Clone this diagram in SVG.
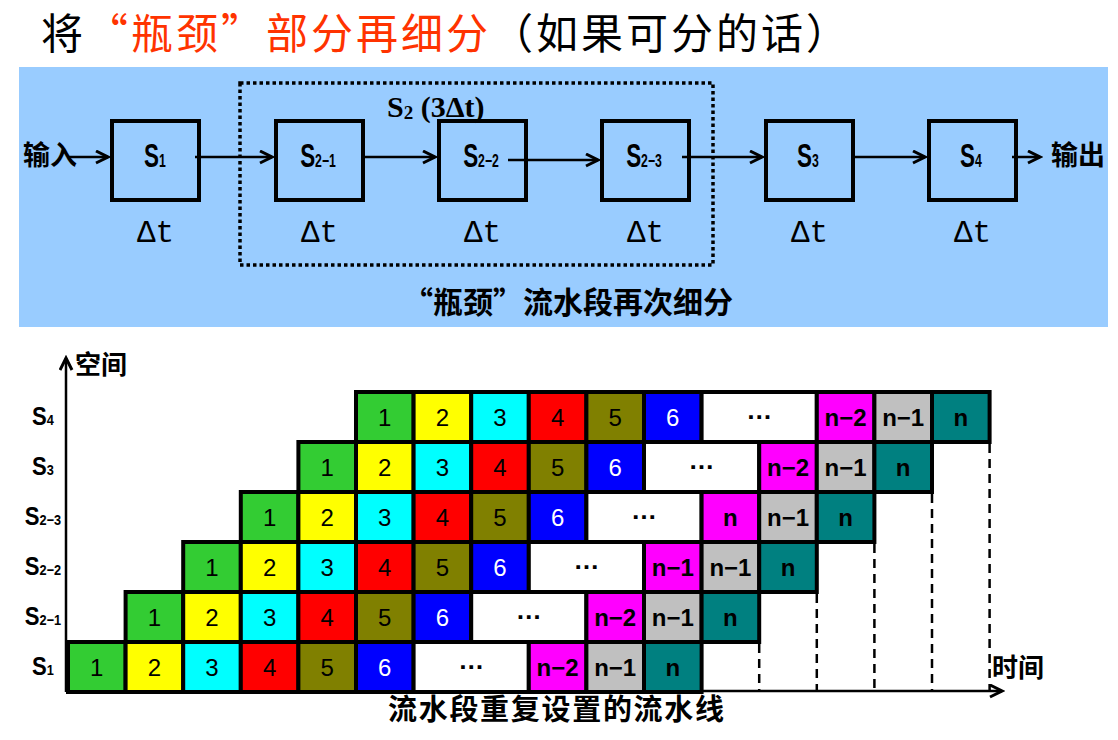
<svg xmlns="http://www.w3.org/2000/svg" width="1118" height="740" viewBox="0 0 1118 740">
<defs>
<marker id="arr" markerUnits="userSpaceOnUse" markerWidth="16" markerHeight="16" refX="13" refY="7" orient="auto">
<path d="M1,1 L13,7 L1,13" fill="none" stroke="#000" stroke-width="3" stroke-linejoin="miter"/>
</marker>
<style>
.box{fill:none;stroke:#000;stroke-width:4}
.ln{stroke:#000;stroke-width:2.5;fill:none}
.c{stroke:#000;stroke-width:4}
.g{fill:#33CC33}.y{fill:#FFFF00}.cy{fill:#00FFFF}.r{fill:#FF0000}.o{fill:#808000}.b{fill:#0000FF}.w{fill:#FFFFFF}.m{fill:#FF00FF}.gr{fill:#C0C0C0}.t{fill:#008080}
.n{font-family:"Liberation Sans",Arial,sans-serif;font-size:24px;text-anchor:middle;fill:#000}
.nw{fill:#fff}
.nb{font-weight:bold}
.el{font-family:"Liberation Sans",Arial,sans-serif;font-size:26px;font-weight:bold;text-anchor:middle}
.cjk{font-family:"Noto Sans CJK SC",sans-serif}
.rl{font-family:"Liberation Sans",Arial,sans-serif;font-weight:bold;font-size:26px;text-anchor:middle}
.sl{font-family:"Liberation Sans",Arial,sans-serif;font-weight:bold;font-size:33px;text-anchor:middle}
.dt{font-family:"Liberation Mono","Courier New",monospace;font-size:31px;text-anchor:middle}
.dash{stroke:#000;stroke-width:2.5;stroke-dasharray:9 6}
</style>
</defs>
<rect width="1118" height="740" fill="#fff"/>

<g id="title" class="cjk" font-size="42">
<text x="41" y="49">将</text>
<text x="86" y="49" fill="#FF3300" letter-spacing="3">“瓶颈”部分再细分</text>
<text x="491" y="49" letter-spacing="3">（如果可分的话）</text>
</g>

<rect id="panel" x="19" y="67" width="1089" height="260" fill="#99CCFF"/>

<g id="group-S2">
<rect x="240" y="83" width="473" height="182" fill="none" stroke="#000" stroke-width="3.5" stroke-dasharray="3.5 3"/>
<text x="387" y="117" font-family="'Liberation Serif','Times New Roman',serif" font-weight="bold" font-size="30">S<tspan font-size="19" dy="2">2</tspan><tspan dy="-2"> (3Δt)</tspan></text>
</g>

<g id="in-label"><text class="cjk" x="23" y="165" font-size="27" font-weight="bold">输入</text></g>
<g id="out-label"><text class="cjk" x="1051" y="165" font-size="27" font-weight="bold">输出</text></g>

<g id="node-S1">
<rect class="box" x="112" y="121" width="87" height="79"/>
<text class="sl" transform="translate(155,167) scale(0.68,1)">S<tspan font-size="18">1</tspan></text>
<text class="dt" x="155.5" y="242">Δt</text>
</g>
<g id="node-S2-1">
<rect class="box" x="276" y="121" width="87" height="79"/>
<text class="sl" transform="translate(318,167) scale(0.68,1)">S<tspan font-size="18">2−1</tspan></text>
<text class="dt" x="319.5" y="242">Δt</text>
</g>
<g id="node-S2-2">
<rect class="box" x="439" y="121" width="87" height="79"/>
<text class="sl" transform="translate(481,167) scale(0.68,1)">S<tspan font-size="18">2−2</tspan></text>
<text class="dt" x="482.5" y="242">Δt</text>
</g>
<g id="node-S2-3">
<rect class="box" x="602" y="121" width="87" height="79"/>
<text class="sl" transform="translate(644,167) scale(0.68,1)">S<tspan font-size="18">2−3</tspan></text>
<text class="dt" x="645.5" y="242">Δt</text>
</g>
<g id="node-S3">
<rect class="box" x="766" y="121" width="87" height="79"/>
<text class="sl" transform="translate(808,167) scale(0.68,1)">S<tspan font-size="18">3</tspan></text>
<text class="dt" x="809.5" y="242">Δt</text>
</g>
<g id="node-S4">
<rect class="box" x="929" y="121" width="87" height="79"/>
<text class="sl" transform="translate(971,167) scale(0.68,1)">S<tspan font-size="18">4</tspan></text>
<text class="dt" x="972.5" y="242">Δt</text>
</g>

<g id="connectors">
<path class="ln" d="M68,157 H108" marker-end="url(#arr)"/>
<path class="ln" d="M195,157 H272" marker-end="url(#arr)"/>
<path class="ln" d="M364,157 H435" marker-end="url(#arr)"/>
<path class="ln" d="M508,160 H598" marker-end="url(#arr)"/>
<path class="ln" d="M682,157 H762" marker-end="url(#arr)"/>
<path class="ln" d="M854,157 H925" marker-end="url(#arr)"/>
<path class="ln" d="M1012,157 H1040" marker-end="url(#arr)"/>
</g>

<g id="panel-caption">
<text class="cjk" x="403" y="313" font-size="30" font-weight="bold">“瓶颈”流水段再次细分</text>
</g>

<g id="axes">
<path class="ln" d="M66,692 V358" marker-end="url(#arr)"/>
<path class="ln" d="M66,691 H1002" marker-end="url(#arr)"/>
<text class="cjk" x="75" y="374" font-size="26" font-weight="bold">空间</text>
<text class="cjk" x="992" y="677" font-size="26" font-weight="bold">时间</text>
<text class="cjk" x="388" y="720" font-size="29" font-weight="bold" letter-spacing="1.7">流水段重复设置的流水线</text>
</g>

<g id="row-labels">
<text class="rl" transform="translate(43,425) scale(0.85,1)">S<tspan font-size="15">4</tspan></text>
<text class="rl" transform="translate(43,475) scale(0.85,1)">S<tspan font-size="15">3</tspan></text>
<text class="rl" transform="translate(43,525) scale(0.85,1)">S<tspan font-size="15">2−3</tspan></text>
<text class="rl" transform="translate(43,575) scale(0.85,1)">S<tspan font-size="15">2−2</tspan></text>
<text class="rl" transform="translate(43,625) scale(0.85,1)">S<tspan font-size="15">2−1</tspan></text>
<text class="rl" transform="translate(43,675) scale(0.85,1)">S<tspan font-size="15">1</tspan></text>
</g>

<g id="dashes">
<line class="dash" x1="759.2" y1="644" x2="759.2" y2="690"/>
<line class="dash" x1="816.8" y1="594" x2="816.8" y2="690"/>
<line class="dash" x1="874.4" y1="544" x2="874.4" y2="690"/>
<line class="dash" x1="932" y1="494" x2="932" y2="690"/>
<line class="dash" x1="989.6" y1="444" x2="989.6" y2="690"/>
</g>

<g id="row-S1">
<rect class="c g" x="68" y="642" width="57.6" height="50"/>
<rect class="c y" x="125.6" y="642" width="57.6" height="50"/>
<rect class="c cy" x="183.2" y="642" width="57.6" height="50"/>
<rect class="c r" x="240.8" y="642" width="57.6" height="50"/>
<rect class="c o" x="298.4" y="642" width="57.6" height="50"/>
<rect class="c b" x="356" y="642" width="57.6" height="50"/>
<rect class="c w" x="413.6" y="642" width="115.2" height="50"/>
<rect class="c m" x="528.8" y="642" width="57.6" height="50"/>
<rect class="c gr" x="586.4" y="642" width="57.6" height="50"/>
<rect class="c t" x="644" y="642" width="57.6" height="50"/>
<text class="n" x="96.8" y="675.5">1</text>
<text class="n" x="154.4" y="675.5">2</text>
<text class="n" x="212" y="675.5">3</text>
<text class="n" x="269.6" y="675.5">4</text>
<text class="n" x="327.2" y="675.5">5</text>
<text class="n nw" x="384.8" y="675.5">6</text>
<text class="el" x="471.2" y="669">…</text>
<text class="n nb" x="557.6" y="675.5">n−2</text>
<text class="n nb" x="615.2" y="675.5">n−1</text>
<text class="n nb" x="672.8" y="675.5">n</text>
</g>

<g id="row-S2-1">
<rect class="c g" x="125.6" y="592" width="57.6" height="50"/>
<rect class="c y" x="183.2" y="592" width="57.6" height="50"/>
<rect class="c cy" x="240.8" y="592" width="57.6" height="50"/>
<rect class="c r" x="298.4" y="592" width="57.6" height="50"/>
<rect class="c o" x="356" y="592" width="57.6" height="50"/>
<rect class="c b" x="413.6" y="592" width="57.6" height="50"/>
<rect class="c w" x="471.2" y="592" width="115.2" height="50"/>
<rect class="c m" x="586.4" y="592" width="57.6" height="50"/>
<rect class="c gr" x="644" y="592" width="57.6" height="50"/>
<rect class="c t" x="701.6" y="592" width="57.6" height="50"/>
<text class="n" x="154.4" y="625.5">1</text>
<text class="n" x="212" y="625.5">2</text>
<text class="n" x="269.6" y="625.5">3</text>
<text class="n" x="327.2" y="625.5">4</text>
<text class="n" x="384.8" y="625.5">5</text>
<text class="n nw" x="442.4" y="625.5">6</text>
<text class="el" x="528.8" y="619">…</text>
<text class="n nb" x="615.2" y="625.5">n−2</text>
<text class="n nb" x="672.8" y="625.5">n−1</text>
<text class="n nb" x="730.4" y="625.5">n</text>
</g>

<g id="row-S2-2">
<rect class="c g" x="183.2" y="542" width="57.6" height="50"/>
<rect class="c y" x="240.8" y="542" width="57.6" height="50"/>
<rect class="c cy" x="298.4" y="542" width="57.6" height="50"/>
<rect class="c r" x="356" y="542" width="57.6" height="50"/>
<rect class="c o" x="413.6" y="542" width="57.6" height="50"/>
<rect class="c b" x="471.2" y="542" width="57.6" height="50"/>
<rect class="c w" x="528.8" y="542" width="115.2" height="50"/>
<rect class="c m" x="644" y="542" width="57.6" height="50"/>
<rect class="c gr" x="701.6" y="542" width="57.6" height="50"/>
<rect class="c t" x="759.2" y="542" width="57.6" height="50"/>
<text class="n" x="212" y="575.5">1</text>
<text class="n" x="269.6" y="575.5">2</text>
<text class="n" x="327.2" y="575.5">3</text>
<text class="n" x="384.8" y="575.5">4</text>
<text class="n" x="442.4" y="575.5">5</text>
<text class="n nw" x="500" y="575.5">6</text>
<text class="el" x="586.4" y="569">…</text>
<text class="n nb" x="672.8" y="575.5">n−1</text>
<text class="n nb" x="730.4" y="575.5">n−1</text>
<text class="n nb" x="788" y="575.5">n</text>
</g>

<g id="row-S2-3">
<rect class="c g" x="240.8" y="492" width="57.6" height="50"/>
<rect class="c y" x="298.4" y="492" width="57.6" height="50"/>
<rect class="c cy" x="356" y="492" width="57.6" height="50"/>
<rect class="c r" x="413.6" y="492" width="57.6" height="50"/>
<rect class="c o" x="471.2" y="492" width="57.6" height="50"/>
<rect class="c b" x="528.8" y="492" width="57.6" height="50"/>
<rect class="c w" x="586.4" y="492" width="115.2" height="50"/>
<rect class="c m" x="701.6" y="492" width="57.6" height="50"/>
<rect class="c gr" x="759.2" y="492" width="57.6" height="50"/>
<rect class="c t" x="816.8" y="492" width="57.6" height="50"/>
<text class="n" x="269.6" y="525.5">1</text>
<text class="n" x="327.2" y="525.5">2</text>
<text class="n" x="384.8" y="525.5">3</text>
<text class="n" x="442.4" y="525.5">4</text>
<text class="n" x="500" y="525.5">5</text>
<text class="n nw" x="557.6" y="525.5">6</text>
<text class="el" x="644" y="519">…</text>
<text class="n nb" x="730.4" y="525.5">n</text>
<text class="n nb" x="788" y="525.5">n−1</text>
<text class="n nb" x="845.6" y="525.5">n</text>
</g>

<g id="row-S3">
<rect class="c g" x="298.4" y="442" width="57.6" height="50"/>
<rect class="c y" x="356" y="442" width="57.6" height="50"/>
<rect class="c cy" x="413.6" y="442" width="57.6" height="50"/>
<rect class="c r" x="471.2" y="442" width="57.6" height="50"/>
<rect class="c o" x="528.8" y="442" width="57.6" height="50"/>
<rect class="c b" x="586.4" y="442" width="57.6" height="50"/>
<rect class="c w" x="644" y="442" width="115.2" height="50"/>
<rect class="c m" x="759.2" y="442" width="57.6" height="50"/>
<rect class="c gr" x="816.8" y="442" width="57.6" height="50"/>
<rect class="c t" x="874.4" y="442" width="57.6" height="50"/>
<text class="n" x="327.2" y="475.5">1</text>
<text class="n" x="384.8" y="475.5">2</text>
<text class="n" x="442.4" y="475.5">3</text>
<text class="n" x="500" y="475.5">4</text>
<text class="n" x="557.6" y="475.5">5</text>
<text class="n nw" x="615.2" y="475.5">6</text>
<text class="el" x="701.6" y="469">…</text>
<text class="n nb" x="788" y="475.5">n−2</text>
<text class="n nb" x="845.6" y="475.5">n−1</text>
<text class="n nb" x="903.2" y="475.5">n</text>
</g>

<g id="row-S4">
<rect class="c g" x="356" y="392" width="57.6" height="50"/>
<rect class="c y" x="413.6" y="392" width="57.6" height="50"/>
<rect class="c cy" x="471.2" y="392" width="57.6" height="50"/>
<rect class="c r" x="528.8" y="392" width="57.6" height="50"/>
<rect class="c o" x="586.4" y="392" width="57.6" height="50"/>
<rect class="c b" x="644" y="392" width="57.6" height="50"/>
<rect class="c w" x="701.6" y="392" width="115.2" height="50"/>
<rect class="c m" x="816.8" y="392" width="57.6" height="50"/>
<rect class="c gr" x="874.4" y="392" width="57.6" height="50"/>
<rect class="c t" x="932" y="392" width="57.6" height="50"/>
<text class="n" x="384.8" y="425.5">1</text>
<text class="n" x="442.4" y="425.5">2</text>
<text class="n" x="500" y="425.5">3</text>
<text class="n" x="557.6" y="425.5">4</text>
<text class="n" x="615.2" y="425.5">5</text>
<text class="n nw" x="672.8" y="425.5">6</text>
<text class="el" x="759.2" y="419">…</text>
<text class="n nb" x="845.6" y="425.5">n−2</text>
<text class="n nb" x="903.2" y="425.5">n−1</text>
<text class="n nb" x="960.8" y="425.5">n</text>
</g>
</svg>
